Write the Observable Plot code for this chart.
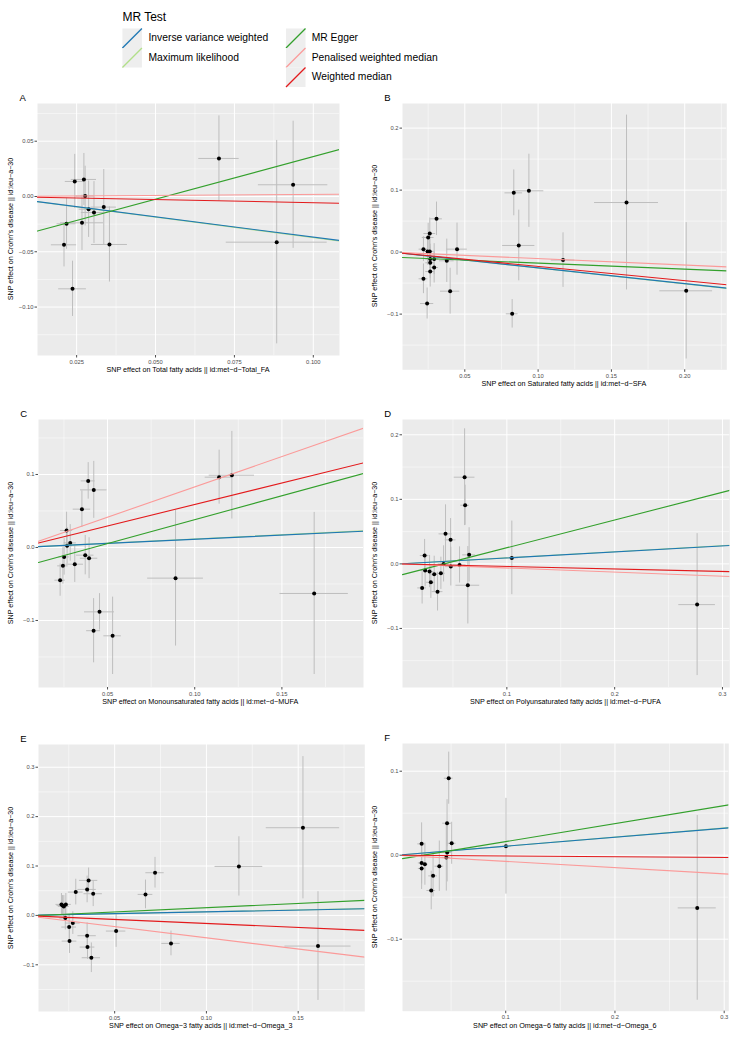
<!DOCTYPE html>
<html><head><meta charset="utf-8">
<script src="https://cdn.jsdelivr.net/npm/d3@7"></script>
<script src="https://cdn.jsdelivr.net/npm/@observablehq/plot@0.6"></script>
<style>
body{margin:0;background:#fff;font-family:"Liberation Sans",Arial,Helvetica,sans-serif;}
#root{position:relative;width:740px;height:1037px;overflow:hidden;background:#fff;}
.abs{position:absolute;white-space:nowrap;color:#000;line-height:1;}
</style></head><body><div id="root"></div>
<script>
// ---------- data ----------
const methods = ["Inverse variance weighted","Maximum likelihood","MR Egger","Penalised weighted median","Weighted median"];
const methodColors = ["#1F78B4","#B2DF8A","#33A02C","#FB9A99","#E31A1C"];
const yLabel = "SNP effect on Crohn's disease || id:ieu−a−30";

// Panel A – Total fatty acids
const xA  = [0.0244,0.0273,0.0277,0.0288,0.0305,0.0336,0.0354,0.0267,0.0218,0.0210,0.0237,0.0701,0.0936,0.0884];
const yA  = [0.0136,0.0154,0.0004,-0.0115,-0.0145,-0.0096,-0.0434,-0.0238,-0.0247,-0.0437,-0.0835,0.0344,0.0106,-0.0413];
const sxA = [0.0030,0.0040,0.0030,0.0030,0.0040,0.0040,0.0057,0.0068,0.0030,0.0040,0.0044,0.0064,0.0110,0.0160];
const syA = [0.0245,0.0235,0.0270,0.0255,0.0280,0.0340,0.0340,0.0250,0.0230,0.0200,0.0250,0.0385,0.0575,0.0920];
const slopeA = [-0.367,-0.372,0.771,0.019,-0.056];
const interA = [0,0,-0.041,0,0];
const xTicksA = [0.025,0.05,0.075,0.1], yTicksA = [-0.1,-0.05,0,0.05];
const xLabelA = "SNP effect on Total fatty acids || id:met−d−Total_FA";

// Panel B – Saturated fatty acids
const xB  = [0.0218,0.0246,0.0261,0.0250,0.0261,0.0307,0.0264,0.0291,0.0264,0.0291,0.0264,0.0218,0.0377,0.0447,0.0400,0.0243,0.0823,0.0834,0.0937,0.0868,0.1170,0.1603,0.2010];
const yB  = [0.0048,0.0010,0.0010,0.0236,0.0300,0.0537,-0.0113,-0.0113,-0.0172,-0.0248,-0.0313,-0.0430,-0.0140,0.0048,-0.0630,-0.0829,-0.0995,0.0956,0.0989,0.0107,-0.0129,0.0800,-0.0624];
const sxB = [0.0030,0.0030,0.0030,0.0040,0.0040,0.0040,0.0030,0.0030,0.0030,0.0030,0.0030,0.0030,0.0050,0.0070,0.0066,0.0045,0.0040,0.0060,0.0102,0.0110,0.0080,0.0218,0.0180];
const syB = [0.0200,0.0220,0.0250,0.0230,0.0250,0.0270,0.0240,0.0250,0.0250,0.0250,0.0250,0.0240,0.0350,0.0420,0.0370,0.0250,0.0230,0.0370,0.0590,0.0570,0.0440,0.1410,0.1100];
const slopeB = [-0.254,-0.256,-0.097,-0.104,-0.230];
const interB = [0,0,-0.008,0,0];
const xTicksB = [0.05,0.1,0.15,0.2], yTicksB = [-0.1,0,0.1,0.2];
const xLabelB = "SNP effect on Saturated fatty acids || id:met−d−SFA";

// Panel C – Monounsaturated fatty acids
const xC  = [0.0265,0.0389,0.0421,0.0353,0.1140,0.1213,0.0286,0.0268,0.0251,0.0244,0.0228,0.0312,0.0372,0.0394,0.0454,0.0890,0.1685,0.0420,0.0529];
const yC  = [0.0233,0.0912,0.0789,0.0525,0.0963,0.0990,0.0063,0.0022,-0.0129,-0.0252,-0.0448,-0.0229,-0.0105,-0.0147,-0.0882,-0.0420,-0.0630,-0.1140,-0.1210];
const sxC = [0.0035,0.0040,0.0076,0.0050,0.0080,0.0130,0.0035,0.0030,0.0030,0.0030,0.0030,0.0050,0.0050,0.0050,0.0086,0.0160,0.0196,0.0040,0.0050];
const syC = [0.0250,0.0250,0.0390,0.0250,0.0370,0.0600,0.0250,0.0250,0.0250,0.0250,0.0220,0.0250,0.0270,0.0280,0.0250,0.0930,0.1110,0.0440,0.0530];
const slopeC = [0.113,0.116,0.654,0.830,0.589];
const interC = [0,0,-0.0273,0,0];
const xTicksC = [0.05,0.1,0.15], yTicksC = [-0.1,0,0.1];
const xLabelC = "SNP effect on Monounsaturated fatty acids || id:met−d−MUFA";

// Panel D – Polyunsaturated fatty acids
const xD  = [0.0608,0.0613,0.0431,0.0478,0.0237,0.0650,0.0413,0.0561,0.0480,0.0242,0.0283,0.0326,0.0388,0.0295,0.0214,0.0357,0.0638,0.1046,0.2765];
const yD  = [0.1343,0.0909,0.0465,0.0372,0.0129,0.0140,0.0000,-0.0016,-0.0042,-0.0104,-0.0119,-0.0161,-0.0146,-0.0285,-0.0372,-0.0430,-0.0331,0.0093,-0.0631];
const sxD = [0.0096,0.0040,0.0060,0.0050,0.0040,0.0060,0.0050,0.0060,0.0050,0.0040,0.0040,0.0040,0.0040,0.0040,0.0040,0.0050,0.0110,0.0060,0.0170];
const syD = [0.0750,0.0310,0.0450,0.0330,0.0250,0.0420,0.0280,0.0280,0.0300,0.0250,0.0250,0.0280,0.0250,0.0250,0.0250,0.0300,0.0600,0.0570,0.1100];
const slopeD = [0.0926,0.094,0.430,-0.064,-0.039];
const interD = [0,0,-0.018,0,0];
const xTicksD = [0.1,0.2,0.3], yTicksD = [-0.1,0,0.1,0.2];
const xLabelD = "SNP effect on Polyunsaturated fatty acids || id:met−d−PUFA";

// Panel E – Omega-3 fatty acids
const xE  = [0.0210,0.0223,0.0234,0.0216,0.0231,0.0252,0.0272,0.0254,0.0288,0.0350,0.0358,0.0383,0.0350,0.0352,0.0373,0.0508,0.0668,0.0720,0.0807,0.1177,0.1608,0.1526];
const yE  = [0.0223,0.0182,0.0223,0.0202,-0.0054,-0.0236,-0.0155,-0.0520,0.0472,0.0526,0.0709,0.0439,-0.0411,-0.0641,-0.0857,-0.0317,0.0425,0.0864,-0.0567,0.0992,-0.0621,0.1775];
const sxE = [0.0030,0.0030,0.0030,0.0030,0.0030,0.0040,0.0040,0.0040,0.0040,0.0050,0.0050,0.0050,0.0050,0.0040,0.0050,0.0053,0.0040,0.0050,0.0050,0.0130,0.0180,0.0200];
const syE = [0.0220,0.0220,0.0220,0.0200,0.0240,0.0250,0.0230,0.0250,0.0260,0.0270,0.0250,0.0260,0.0260,0.0250,0.0300,0.0330,0.0290,0.0310,0.0250,0.0600,0.1100,0.1440];
const slopeE = [0.072,0.074,0.171,-0.453,-0.163];
const interE = [0,0,-0.0015,0,0];
const xTicksE = [0.05,0.1,0.15], yTicksE = [-0.1,0,0.1,0.2,0.3];
const xLabelE = "SNP effect on Omega−3 fatty acids || id:met−d−Omega_3";

// Panel F – Omega-6 fatty acids
const xF  = [0.0478,0.0463,0.0230,0.0505,0.0464,0.0456,0.0230,0.0260,0.0230,0.0392,0.0335,0.0318,0.1002,0.2753];
const yF  = [0.0917,0.0381,0.0135,0.0142,0.0032,-0.0027,-0.0092,-0.0107,-0.0158,-0.0131,-0.0246,-0.0420,0.0107,-0.0627];
const sxF = [0.0040,0.0040,0.0035,0.0040,0.0040,0.0040,0.0030,0.0030,0.0030,0.0040,0.0040,0.0040,0.0050,0.0174];
const syF = [0.0310,0.0280,0.0250,0.0250,0.0350,0.0400,0.0250,0.0250,0.0250,0.0300,0.0250,0.0230,0.0570,0.1100];
const slopeF = [0.107,0.108,0.214,-0.074,-0.009];
const interF = [0,0,-0.0052,0,0];
const xTicksF = [0.1,0.2,0.3], yTicksF = [-0.1,0,0.1];
const xLabelF = "SNP effect on Omega−6 fatty acids || id:met−d−Omega_6";

// ---------- layout ----------
const root = document.getElementById("root");
const FONT = "'Liberation Sans', Arial, Helvetica, sans-serif";

function txt(s, x, y, size, anchor, rotate) {
  const d = document.createElement("div");
  d.className = "abs"; d.textContent = s;
  d.style.fontSize = size + "px"; d.style.left = x + "px"; d.style.top = y + "px";
  d.style.fontFamily = FONT;
  d.style.transform = (anchor === "middle" ? "translate(-50%,-50%)" : "translate(0,-50%)") + (rotate ? " rotate(-90deg)" : "");
  root.appendChild(d);
}
const fmt = k => v => (v < -1e-12 ? "−" : "") + Math.abs(v).toFixed(k);
function minor(t, dom) {
  const s = t[1] - t[0], out = [];
  for (let i = -1; i < t.length; i++) {
    const v = t[0] + s * i + s / 2;
    if (v > dom[0] && v < dom[1]) out.push(v);
  }
  return out;
}

function panel(box, letter, xs, ys, sxs, sys, slopes, inters, xt, yt, kx, ky, xlabel) {
  const ml = 40, mr = 4, mt = 4, mb = 14;
  const fw = box.right - box.left, fh = box.bottom - box.top;
  const pts = xs.map((x, i) => ({x, y: ys[i], sx: sxs[i], sy: sys[i]}));
  const [x0, x1] = box.xd;
  const order = [1, 0, 2, 3, 4];
  const lineMarks = order.map(i => Plot.line([x0, x1].map(x => ({x, y: inters[i] + slopes[i] * x})),
    {x: "x", y: "y", stroke: methodColors[i], strokeWidth: 1.1, clip: true}));
  const svg = Plot.plot({
    width: fw + ml + mr, height: fh + mt + mb,
    marginLeft: ml, marginRight: mr, marginTop: mt, marginBottom: mb,
    x: {domain: box.xd}, y: {domain: box.yd},
    style: {fontFamily: FONT, background: "transparent", overflow: "visible"},
    marks: [
      Plot.frame({fill: "#EBEBEB", stroke: "none"}),
      Plot.ruleX(minor(xt, box.xd), {stroke: "#fff", strokeWidth: 0.5}),
      Plot.ruleY(minor(yt, box.yd), {stroke: "#fff", strokeWidth: 0.5}),
      Plot.ruleX(xt, {stroke: "#fff", strokeWidth: 1}),
      Plot.ruleY(yt, {stroke: "#fff", strokeWidth: 1}),
      Plot.ruleX(pts, {x: "x", y1: d => d.y - d.sy, y2: d => d.y + d.sy, stroke: "#BEBEBE", strokeWidth: 1, clip: true}),
      Plot.ruleY(pts, {y: "y", x1: d => d.x - d.sx, x2: d => d.x + d.sx, stroke: "#BEBEBE", strokeWidth: 1, clip: true}),
      Plot.dot(pts, {x: "x", y: "y", r: 2, fill: "#000", stroke: "none"}),
      ...lineMarks,
      Plot.axisX(xt, {tickFormat: fmt(kx), tickSize: 2.5, tickPadding: 1.5, fontSize: 5.8, color: "#4d4d4d", label: null}),
      Plot.axisY(yt, {tickFormat: fmt(ky), tickSize: 2.5, tickPadding: 1.5, fontSize: 5.8, color: "#4d4d4d", label: null})
    ]
  });
  svg.style.position = "absolute";
  svg.style.left = (box.left - ml) + "px";
  svg.style.top = (box.top - mt) + "px";
  svg.style.maxWidth = "none";
  root.appendChild(svg);
  txt(xlabel, (box.left + box.right) / 2, box.bottom + 14.5, 7.2, "middle");
  txt(yLabel, box.left - 26.5, (box.top + box.bottom) / 2, 7.2, "middle", true);
  txt(letter, box.left - 17.5, box.top - 5, 9.5, "start");
}

const boxes = {
  A: {left: 37, top: 103, right: 339, bottom: 355, xd: [0.0126, 0.1083], yd: [-0.1438, 0.0841]},
  B: {left: 401.7, top: 102.7, right: 726, bottom: 369, xd: [0.0075, 0.2287], yd: [-0.1898, 0.2397]},
  C: {left: 37.7, top: 419, right: 362.7, bottom: 687, xd: [0.0104, 0.1968], yd: [-0.1918, 0.1753]},
  D: {left: 401.7, top: 419, right: 729, bottom: 687, xd: [0.0032, 0.3068], yd: [-0.1915, 0.2237]},
  E: {left: 37.7, top: 744, right: 364, bottom: 1011, xd: [0.0085, 0.1863], yd: [-0.1945, 0.346]},
  F: {left: 401.7, top: 743.3, right: 728, bottom: 1011, xd: [0.0055, 0.3042], yd: [-0.1857, 0.133]}
};

panel(boxes.A, "A", xA, yA, sxA, syA, slopeA, interA, xTicksA, yTicksA, 3, 2, xLabelA);
panel(boxes.B, "B", xB, yB, sxB, syB, slopeB, interB, xTicksB, yTicksB, 2, 1, xLabelB);
panel(boxes.C, "C", xC, yC, sxC, syC, slopeC, interC, xTicksC, yTicksC, 2, 1, xLabelC);
panel(boxes.D, "D", xD, yD, sxD, syD, slopeD, interD, xTicksD, yTicksD, 1, 1, xLabelD);
panel(boxes.E, "E", xE, yE, sxE, syE, slopeE, interE, xTicksE, yTicksE, 2, 1, xLabelE);
panel(boxes.F, "F", xF, yF, sxF, syF, slopeF, interF, xTicksF, yTicksF, 1, 1, xLabelF);

// ---------- legend ----------
txt("MR Test", 122.4, 16.5, 12, "start");
const leg = d3.create("svg").attr("width", 740).attr("height", 92)
  .style("position", "absolute").style("left", "0px").style("top", "0px");
const keyW = 19.5;
methods.forEach((m, i) => {
  const col = i < 2 ? 0 : 1, row = i < 2 ? i : i - 2;
  const kx = col === 0 ? 122.4 : 286, ky = 28.5 + row * keyW;
  leg.append("rect").attr("x", kx).attr("y", ky).attr("width", keyW).attr("height", keyW).attr("fill", "#EEEEEE");
  leg.append("line").attr("x1", kx).attr("y1", ky + keyW).attr("x2", kx + keyW).attr("y2", ky)
    .attr("stroke", methodColors[i]).attr("stroke-width", 1.3);
});
root.appendChild(leg.node());
methods.forEach((m, i) => {
  const col = i < 2 ? 0 : 1, row = i < 2 ? i : i - 2;
  txt(m, col === 0 ? 148.5 : 311.7, 28.5 + row * keyW + keyW / 2, 10.3, "start");
});
</script></body></html>
